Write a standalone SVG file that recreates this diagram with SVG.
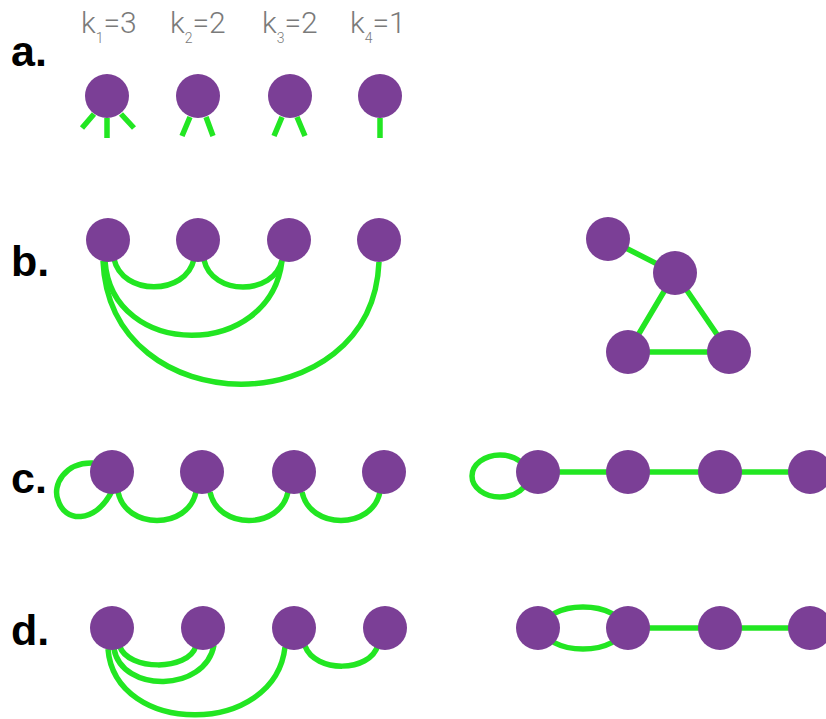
<svg xmlns="http://www.w3.org/2000/svg" width="826" height="719" viewBox="0 0 826 719">
<style>
.n{fill:#7B3F96}
.e{fill:none;stroke:#22E622;stroke-width:5.5}
.lbl{font-family:"Liberation Sans",Arial,sans-serif;font-weight:bold;font-size:43px;fill:#000}
.k{font-family:Roboto,"Liberation Sans",sans-serif;font-weight:300;font-size:30px;fill:#7a7a7a}
.s{font-size:14px}
</style>
<rect width="826" height="719" fill="#fff"/>
<g id="labels">
<text class="lbl" x="11" y="66">a.</text>
<text class="lbl" x="11" y="276">b.</text>
<text class="lbl" x="11" y="493">c.</text>
<text class="lbl" x="11" y="645">d.</text>
<text class="k" x="81" y="33">k<tspan class="s" dy="10">1</tspan><tspan dy="-10">=3</tspan></text>
<text class="k" x="170" y="33">k<tspan class="s" dy="10">2</tspan><tspan dy="-10">=2</tspan></text>
<text class="k" x="262" y="33">k<tspan class="s" dy="10">3</tspan><tspan dy="-10">=2</tspan></text>
<text class="k" x="350" y="33">k<tspan class="s" dy="10">4</tspan><tspan dy="-10">=1</tspan></text>
</g>
<g id="connectors">
<path class="e" d="M94 114L82 128M107 118L107 138M121 114L134 128"/>
<path class="e" d="M190 117L182 136M206 117L213 136"/>
<path class="e" d="M282 117L274 136M297 117L305 136"/>
<path class="e" d="M380 118L380 138"/>
<path class="e" d="M114 259C122 296 186 296 194 259"/>
<path class="e" d="M204 260C212 296 274 296 282 260"/>
<path class="e" d="M105 261C112 360 270 360 282 261"/>
<path class="e" d="M103 261C110 425 372 425 379 262"/>
<path class="e" d="M608 239L675 273L628 352L729 352L675 273"/>
<path class="e" d="M93 463C65 462 52 485 58 500C64 522 95 525 112 491"/>
<path class="e" d="M118 492C126 530 188 530 196 492"/>
<path class="e" d="M210 492C218 530 280 530 288 492"/>
<path class="e" d="M302 492C310 530 372 530 380 492"/>
<ellipse class="e" cx="500" cy="476" rx="28" ry="21"/>
<path class="e" d="M538 472L810 472"/>
<path class="e" d="M120 647C128 670 188 672 196 646"/>
<path class="e" d="M114 649C122 693 205 693 214 645"/>
<path class="e" d="M108 649C115 737 275 737 285 647"/>
<path class="e" d="M305 646C315 673 370 673 378 645"/>
<ellipse class="e" cx="583" cy="628" rx="40" ry="21"/>
<path class="e" d="M628 628L810 628"/>
</g>
<g id="a1"><circle class="n" cx="107" cy="96" r="22"/></g>
<g id="a2"><circle class="n" cx="198" cy="96" r="22"/></g>
<g id="a3"><circle class="n" cx="290" cy="96" r="22"/></g>
<g id="a4"><circle class="n" cx="380" cy="96" r="22"/></g>
<g id="b1"><circle class="n" cx="108" cy="240" r="22"/></g>
<g id="b2"><circle class="n" cx="198" cy="240" r="22"/></g>
<g id="b3"><circle class="n" cx="289" cy="240" r="22"/></g>
<g id="b4"><circle class="n" cx="379" cy="240" r="22"/></g>
<g id="bA"><circle class="n" cx="608" cy="239" r="22"/></g>
<g id="bB"><circle class="n" cx="675" cy="273" r="22"/></g>
<g id="bC"><circle class="n" cx="628" cy="352" r="22"/></g>
<g id="bD"><circle class="n" cx="729" cy="352" r="22"/></g>
<g id="c1"><circle class="n" cx="112" cy="472" r="22"/></g>
<g id="c2"><circle class="n" cx="202" cy="472" r="22"/></g>
<g id="c3"><circle class="n" cx="294" cy="472" r="22"/></g>
<g id="c4"><circle class="n" cx="384" cy="472" r="22"/></g>
<g id="cR1"><circle class="n" cx="538" cy="472" r="22"/></g>
<g id="cR2"><circle class="n" cx="628" cy="472" r="22"/></g>
<g id="cR3"><circle class="n" cx="720" cy="472" r="22"/></g>
<g id="cR4"><circle class="n" cx="810" cy="472" r="22"/></g>
<g id="d1"><circle class="n" cx="112" cy="628" r="22"/></g>
<g id="d2"><circle class="n" cx="203" cy="628" r="22"/></g>
<g id="d3"><circle class="n" cx="294" cy="628" r="22"/></g>
<g id="d4"><circle class="n" cx="385" cy="628" r="22"/></g>
<g id="dR1"><circle class="n" cx="538" cy="628" r="22"/></g>
<g id="dR2"><circle class="n" cx="628" cy="628" r="22"/></g>
<g id="dR3"><circle class="n" cx="720" cy="628" r="22"/></g>
<g id="dR4"><circle class="n" cx="810" cy="628" r="22"/></g>
</svg>
